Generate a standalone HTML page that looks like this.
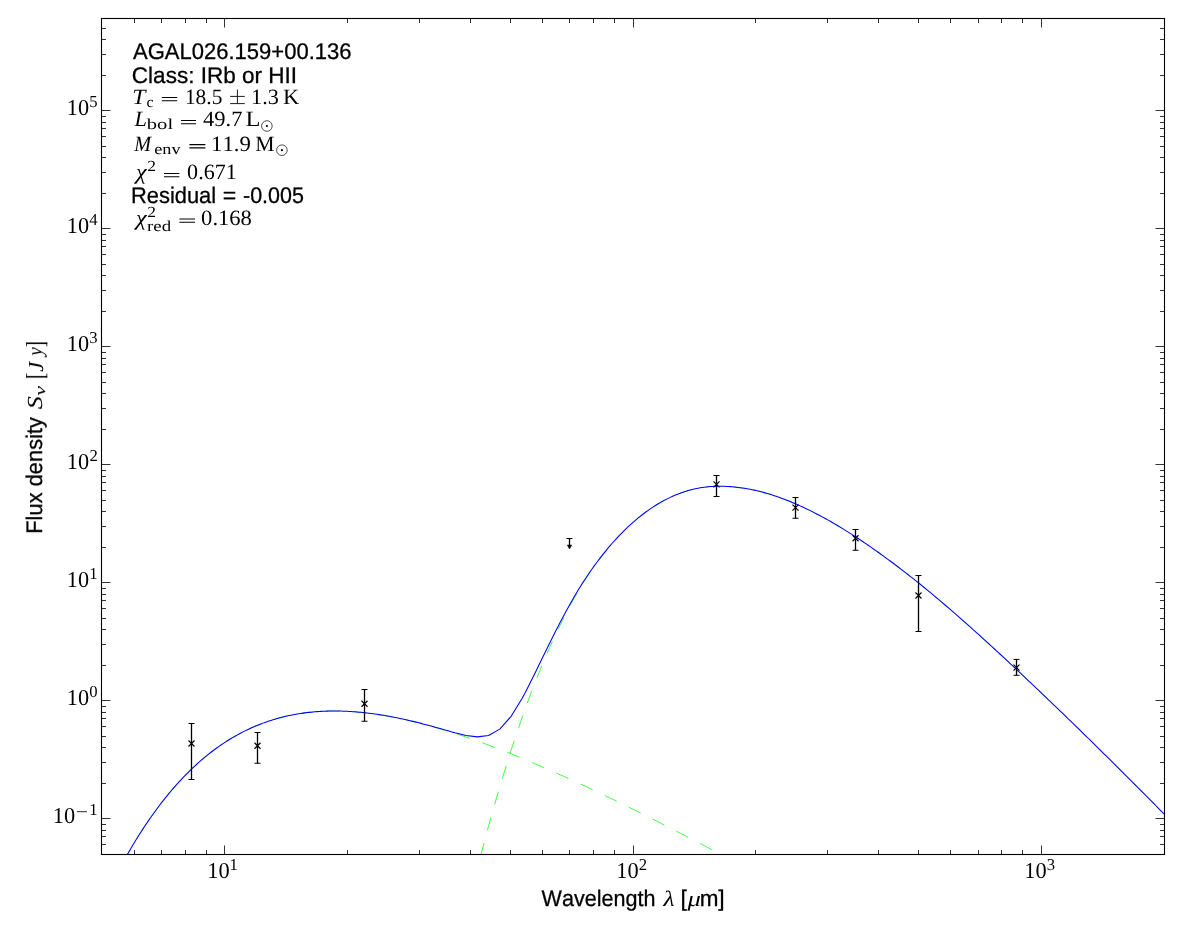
<!DOCTYPE html><html><head><meta charset="utf-8"><style>html,body{margin:0;padding:0;background:#fff}svg{display:block}text{fill:#000;font-kerning:none;text-rendering:geometricPrecision}</style></head><body><svg width="1200" height="933" viewBox="0 0 1200 933">
<rect width="1200" height="933" fill="#fff"/>
<defs><clipPath id="ax"><rect x="101.5" y="18.5" width="1063.0" height="836.0"/></clipPath></defs>
<g clip-path="url(#ax)" fill="none">
<path d="M95.00,919.36 L97.00,914.84 L99.00,910.40 L101.00,906.03 L103.00,901.72 L105.00,897.48 L107.00,893.31 L109.00,889.21 L111.00,885.17 L113.00,881.19 L115.00,877.28 L117.00,873.44 L119.00,869.65 L121.00,865.93 L123.00,862.27 L125.00,858.66 L127.00,855.12 L129.00,851.64 L131.00,848.22 L133.00,844.85 L135.00,841.54 L137.00,838.29 L139.00,835.09 L141.00,831.95 L143.00,828.86 L145.00,825.83 L147.00,822.85 L149.00,819.92 L151.00,817.04 L153.00,814.22 L155.00,811.45 L157.00,808.72 L159.00,806.05 L161.00,803.43 L163.00,800.85 L165.00,798.32 L167.00,795.84 L169.00,793.41 L171.00,791.03 L173.00,788.69 L175.00,786.39 L177.00,784.14 L179.00,781.94 L181.00,779.77 L183.00,777.65 L185.00,775.58 L187.00,773.55 L189.00,771.55 L191.00,769.60 L193.00,767.69 L195.00,765.83 L197.00,764.00 L199.00,762.21 L201.00,760.46 L203.00,758.74 L205.00,757.07 L207.00,755.43 L209.00,753.83 L211.00,752.27 L213.00,750.74 L215.00,749.25 L217.00,747.79 L219.00,746.37 L221.00,744.99 L223.00,743.64 L225.00,742.32 L227.00,741.03 L229.00,739.78 L231.00,738.56 L233.00,737.37 L235.00,736.21 L237.00,735.09 L239.00,734.00 L241.00,732.93 L243.00,731.90 L245.00,730.89 L247.00,729.92 L249.00,728.97 L251.00,728.06 L253.00,727.17 L255.00,726.31 L257.00,725.47 L259.00,724.67 L261.00,723.89 L263.00,723.13 L265.00,722.41 L267.00,721.71 L269.00,721.03 L271.00,720.38 L273.00,719.75 L275.00,719.15 L277.00,718.57 L279.00,718.02 L281.00,717.49 L283.00,716.98 L285.00,716.50 L287.00,716.04 L289.00,715.60 L291.00,715.18 L293.00,714.79 L295.00,714.41 L297.00,714.06 L299.00,713.73 L301.00,713.42 L303.00,713.13 L305.00,712.86 L307.00,712.60 L309.00,712.37 L311.00,712.16 L313.00,711.96 L315.00,711.79 L317.00,711.63 L319.00,711.49 L321.00,711.37 L323.00,711.27 L325.00,711.18 L327.00,711.11 L329.00,711.06 L331.00,711.03 L333.00,711.01 L335.00,711.01 L337.00,711.02 L339.00,711.05 L341.00,711.09 L343.00,711.15 L345.00,711.23 L347.00,711.32 L349.00,711.42 L351.00,711.54 L353.00,711.67 L355.00,711.82 L357.00,711.98 L359.00,712.16 L361.00,712.35 L363.00,712.55 L365.00,712.76 L367.00,712.99 L369.00,713.23 L371.00,713.48 L373.00,713.75 L375.00,714.02 L377.00,714.31 L379.00,714.61 L381.00,714.93 L383.00,715.25 L385.00,715.59 L387.00,715.93 L389.00,716.29 L391.00,716.66 L393.00,717.04 L395.00,717.43 L397.00,717.83 L399.00,718.24 L401.00,718.66 L403.00,719.09 L405.00,719.53 L407.00,719.98 L409.00,720.44 L411.00,720.91 L413.00,721.39 L415.00,721.87 L417.00,722.37 L419.00,722.87 L421.00,723.39 L423.00,723.91 L425.00,724.44 L427.00,724.98 L429.00,725.53 L431.00,726.08 L433.00,726.65 L435.00,727.22 L437.00,727.80 L439.00,728.38 L441.00,728.98 L443.00,729.58 L445.00,730.19 L447.00,730.80 L449.00,731.43 L451.00,732.06 L453.00,732.69 L454.89,733.30 L466.11,737.04 L477.33,740.97 L488.55,745.08 L499.77,749.35 L510.99,753.78 L522.21,758.36 L524.21,759.19 L526.21,760.02 L528.21,760.86 L530.21,761.70 L532.21,762.55 L534.21,763.40 L536.21,764.25 L538.21,765.11 L540.21,765.97 L542.21,766.83 L544.21,767.70 L546.21,768.57 L548.21,769.45 L550.21,770.33 L552.21,771.21 L554.21,772.10 L556.21,772.99 L558.21,773.88 L560.21,774.77 L562.21,775.67 L564.21,776.58 L566.21,777.48 L568.21,778.39 L570.21,779.30 L572.21,780.22 L574.21,781.13 L576.21,782.06 L578.21,782.98 L580.21,783.91 L582.21,784.83 L584.21,785.77 L586.21,786.70 L588.21,787.64 L590.21,788.58 L592.21,789.52 L594.21,790.47 L596.21,791.42 L598.21,792.37 L600.21,793.32 L602.21,794.27 L604.21,795.23 L606.21,796.19 L608.21,797.16 L610.21,798.12 L612.21,799.09 L614.21,800.06 L616.21,801.03 L618.21,802.00 L620.21,802.98 L622.21,803.96 L624.21,804.94 L626.21,805.92 L628.21,806.91 L630.21,807.90 L632.21,808.88 L634.21,809.88 L636.21,810.87 L638.21,811.86 L640.21,812.86 L642.21,813.86 L644.21,814.86 L646.21,815.86 L648.21,816.87 L650.21,817.87 L652.21,818.88 L654.21,819.89 L656.21,820.90 L658.21,821.92 L660.21,822.93 L662.21,823.95 L664.21,824.97 L666.21,825.99 L668.21,827.01 L670.21,828.03 L672.21,829.06 L674.21,830.08 L676.21,831.11 L678.21,832.14 L680.21,833.17 L682.21,834.20 L684.21,835.24 L686.21,836.27 L688.21,837.31 L690.21,838.35 L692.21,839.39 L694.21,840.43 L696.21,841.47 L698.21,842.52 L700.21,843.56 L702.21,844.61 L704.21,845.65 L706.21,846.70 L708.21,847.75 L710.21,848.80 L712.21,849.86 L714.21,850.91 L716.21,851.97 L718.21,853.02 L720.21,854.08 L722.21,855.14 L724.21,856.20 L726.21,857.26 L728.21,858.32 L730.21,859.38 L732.21,860.45 L734.21,861.51 L736.21,862.58 L738.21,863.65 L740.21,864.71 L742.21,865.78 L744.21,866.85 L746.21,867.93 L748.21,869.00 L750.21,870.07 L752.21,871.15 L754.21,872.22 L756.21,873.30 L758.21,874.37 L760.21,875.45 L762.21,876.53 L764.21,877.61 L766.21,878.69 L768.21,879.77 L770.21,880.85 L772.21,881.94 L774.21,883.02 L776.21,884.11 L778.21,885.19 L780.21,886.28 L782.21,887.37 L784.21,888.45 L786.21,889.54 L788.21,890.63 L790.21,891.72 L792.21,892.81 L794.21,893.91 L796.21,895.00 L798.21,896.09 L800.21,897.19 L802.21,898.28 L804.21,899.38 L806.21,900.47 L808.21,901.57 L810.21,902.67 L812.21,903.77 L814.21,904.86 L816.21,905.96 L818.21,907.06 L820.21,908.17 L822.21,909.27 L824.21,910.37 L826.21,911.47 L828.21,912.57 L830.21,913.68 L832.21,914.78 L834.21,915.89 L836.21,916.99 L838.21,918.10 L840.21,919.21 L842.21,920.31 L844.21,921.42 L846.21,922.53 L848.21,923.64 L850.21,924.75 L852.21,925.86 L854.21,926.97 L856.21,928.08 L858.21,929.19 L860.21,930.30 L862.21,931.42 L864.21,932.53 L866.21,933.64 L868.21,934.76 L870.21,935.87 L872.21,936.99 L874.21,938.10 L876.21,939.22 L878.21,940.34 L880.21,941.45 L882.21,942.57 L884.21,943.69 L886.21,944.81 L888.21,945.92 L890.21,947.04 L892.21,948.16 L894.21,949.28 L896.21,950.40 L898.21,951.52 L900.21,952.64 L902.21,953.77 L904.21,954.89 L906.21,956.01 L908.21,957.13 L910.21,958.26 L912.21,959.38 L914.21,960.50 L916.21,961.63 L918.21,962.75 L920.21,963.88 L922.21,965.00 L924.21,966.13 L926.21,967.25 L928.21,968.38 L930.21,969.50 L932.21,970.63 L934.21,971.76 L936.21,972.89 L938.21,974.01 L940.21,975.14 L942.21,976.27 L944.21,977.40 L946.21,978.53 L948.21,979.66 L950.21,980.79 L952.21,981.92 L954.21,983.05 L956.21,984.18 L958.21,985.31 L960.21,986.44 L962.21,987.57 L964.21,988.70 L966.21,989.83 L968.21,990.97 L970.21,992.10 L972.21,993.23 L974.21,994.36 L976.21,995.50 L978.21,996.63 L980.21,997.76 L982.21,998.90 L984.21,1000.03 L986.21,1001.17 L988.21,1002.30 L990.21,1003.44 L992.21,1004.57 L994.21,1005.71 L996.21,1006.84 L998.21,1007.98 L1000.21,1009.11 L1002.21,1010.25 L1004.21,1011.39 L1006.21,1012.52 L1008.21,1013.66 L1010.21,1014.80 L1012.21,1015.93 L1014.21,1017.07 L1016.21,1018.21 L1018.21,1019.35 L1020.21,1020.49 L1022.21,1021.62 L1024.21,1022.76 L1026.21,1023.90 L1028.21,1025.04 L1030.21,1026.18 L1032.21,1027.32 L1034.21,1028.46 L1036.21,1029.60 L1038.21,1030.74 L1040.21,1031.88 L1042.21,1033.02 L1044.21,1034.16 L1046.21,1035.30 L1048.21,1036.44 L1050.21,1037.58 L1052.21,1038.72 L1054.21,1039.86 L1056.21,1041.00 L1058.21,1042.15 L1060.21,1043.29 L1062.21,1044.43 L1064.21,1045.57 L1066.21,1046.71 L1068.21,1047.85 L1070.21,1049.00 L1072.21,1050.14 L1074.21,1051.28 L1076.21,1052.43 L1078.21,1053.57 L1080.21,1054.71 L1082.21,1055.85 L1084.21,1057.00 L1086.21,1058.14 L1088.21,1059.29 L1090.21,1060.43 L1092.21,1061.57 L1094.21,1062.72 L1096.21,1063.86 L1098.21,1065.01 L1100.21,1066.15 L1102.21,1067.29 L1104.21,1068.44 L1106.21,1069.58 L1108.21,1070.73 L1110.21,1071.87 L1112.21,1073.02 L1114.21,1074.16 L1116.21,1075.31 L1118.21,1076.46 L1120.21,1077.60 L1122.21,1078.75 L1124.21,1079.89 L1126.21,1081.04 L1128.21,1082.18 L1130.21,1083.33 L1132.21,1084.48 L1134.21,1085.62 L1136.21,1086.77 L1138.21,1087.92 L1140.21,1089.06 L1142.21,1090.21 L1144.21,1091.36 L1146.21,1092.50 L1148.21,1093.65 L1150.21,1094.80 L1152.21,1095.95 L1154.21,1097.09 L1156.21,1098.24 L1158.21,1099.39 L1160.21,1100.54 L1162.21,1101.68 L1164.21,1102.83 L1166.21,1103.98 L1168.21,1105.13 L1170.21,1106.27" stroke="#00ff00" stroke-width="0.75" stroke-dasharray="13.2 13.45" stroke-dashoffset="16.00"/>
<path d="M419.00,1152.23 L421.00,1140.58 L423.00,1129.09 L425.00,1117.74 L427.00,1106.54 L429.00,1095.49 L431.00,1084.58 L433.00,1073.81 L435.00,1063.19 L437.00,1052.70 L439.00,1042.35 L441.00,1032.13 L443.00,1022.05 L445.00,1012.10 L447.00,1002.29 L449.00,992.60 L451.00,983.05 L453.00,973.62 L454.89,964.83 L466.11,914.89 L477.33,868.67 L488.55,825.96 L499.77,786.59 L510.99,750.37 L522.21,717.16 L524.21,711.54 L526.21,706.01 L528.21,700.58 L530.21,695.23 L532.21,689.96 L534.21,684.79 L536.21,679.70 L538.21,674.69 L540.21,669.77 L542.21,664.93 L544.21,660.17 L546.21,655.50 L548.21,650.91 L550.21,646.40 L552.21,641.96 L554.21,637.61 L556.21,633.33 L558.21,629.14 L560.21,625.01 L562.21,620.97 L564.21,617.00 L566.21,613.10 L568.21,609.28 L570.21,605.53 L572.21,601.86 L574.21,598.25 L576.21,594.72 L578.21,591.28 L580.21,587.92 L582.21,584.64 L584.21,581.45 L586.21,578.33 L588.21,575.28 L590.21,572.31 L592.21,569.41 L594.21,566.57 L596.21,563.79 L598.21,561.08 L600.21,558.42 L602.21,555.81 L604.21,553.26 L606.21,550.76 L608.21,548.31 L610.21,545.93 L612.21,543.60 L614.21,541.33 L616.21,539.12 L618.21,536.96 L620.21,534.85 L622.21,532.79 L624.21,530.79 L626.21,528.83 L628.21,526.92 L630.21,525.05 L632.21,523.23 L634.21,521.46 L636.21,519.74 L638.21,518.07 L640.21,516.45 L642.21,514.88 L644.21,513.35 L646.21,511.87 L648.21,510.44 L650.21,509.05 L652.21,507.71 L654.21,506.41 L656.21,505.14 L658.21,503.92 L660.21,502.73 L662.21,501.59 L664.21,500.49 L666.21,499.44 L668.21,498.43 L670.21,497.47 L672.21,496.54 L674.21,495.66 L676.21,494.81 L678.21,494.01 L680.21,493.24 L682.21,492.52 L684.21,491.84 L686.21,491.20 L688.21,490.61 L690.21,490.06 L692.21,489.56 L694.21,489.09 L696.21,488.66 L698.21,488.26 L700.21,487.90 L702.21,487.58 L704.21,487.29 L706.21,487.04 L708.21,486.83 L710.21,486.65 L712.21,486.51 L714.21,486.40 L716.21,486.33 L718.21,486.29 L720.21,486.29 L722.21,486.31 L724.21,486.36 L726.21,486.44 L728.21,486.55 L730.21,486.68 L732.21,486.83 L734.21,487.01 L736.21,487.21 L738.21,487.44 L740.21,487.70 L742.21,487.97 L744.21,488.28 L746.21,488.61 L748.21,488.96 L750.21,489.33 L752.21,489.73 L754.21,490.16 L756.21,490.61 L758.21,491.08 L760.21,491.58 L762.21,492.10 L764.21,492.65 L766.21,493.21 L768.21,493.79 L770.21,494.40 L772.21,495.03 L774.21,495.68 L776.21,496.35 L778.21,497.04 L780.21,497.75 L782.21,498.48 L784.21,499.22 L786.21,499.99 L788.21,500.78 L790.21,501.59 L792.21,502.42 L794.21,503.26 L796.21,504.12 L798.21,505.00 L800.21,505.90 L802.21,506.82 L804.21,507.75 L806.21,508.70 L808.21,509.66 L810.21,510.64 L812.21,511.64 L814.21,512.66 L816.21,513.68 L818.21,514.73 L820.21,515.79 L822.21,516.86 L824.21,517.95 L826.21,519.06 L828.21,520.18 L830.21,521.31 L832.21,522.46 L834.21,523.62 L836.21,524.80 L838.21,525.99 L840.21,527.19 L842.21,528.41 L844.21,529.64 L846.21,530.88 L848.21,532.13 L850.21,533.40 L852.21,534.68 L854.21,535.97 L856.21,537.27 L858.21,538.58 L860.21,539.91 L862.21,541.25 L864.21,542.59 L866.21,543.95 L868.21,545.32 L870.21,546.70 L872.21,548.10 L874.21,549.50 L876.21,550.91 L878.21,552.33 L880.21,553.76 L882.21,555.20 L884.21,556.66 L886.21,558.11 L888.21,559.58 L890.21,561.06 L892.21,562.54 L894.21,564.04 L896.21,565.54 L898.21,567.06 L900.21,568.58 L902.21,570.11 L904.21,571.65 L906.21,573.20 L908.21,574.75 L910.21,576.32 L912.21,577.90 L914.21,579.48 L916.21,581.07 L918.21,582.68 L920.21,584.29 L922.21,585.91 L924.21,587.55 L926.21,589.19 L928.21,590.84 L930.21,592.49 L932.21,594.16 L934.21,595.83 L936.21,597.51 L938.21,599.20 L940.21,600.90 L942.21,602.60 L944.21,604.30 L946.21,606.02 L948.21,607.74 L950.21,609.46 L952.21,611.19 L954.21,612.92 L956.21,614.67 L958.21,616.41 L960.21,618.17 L962.21,619.93 L964.21,621.69 L966.21,623.47 L968.21,625.24 L970.21,627.03 L972.21,628.81 L974.21,630.61 L976.21,632.41 L978.21,634.21 L980.21,636.02 L982.21,637.83 L984.21,639.64 L986.21,641.46 L988.21,643.29 L990.21,645.12 L992.21,646.95 L994.21,648.79 L996.21,650.62 L998.21,652.47 L1000.21,654.31 L1002.21,656.17 L1004.21,658.02 L1006.21,659.88 L1008.21,661.75 L1010.21,663.62 L1012.21,665.49 L1014.21,667.37 L1016.21,669.25 L1018.21,671.13 L1020.21,673.01 L1022.21,674.90 L1024.21,676.79 L1026.21,678.68 L1028.21,680.58 L1030.21,682.47 L1032.21,684.37 L1034.21,686.26 L1036.21,688.16 L1038.21,690.06 L1040.21,691.96 L1042.21,693.86 L1044.21,695.76 L1046.21,697.67 L1048.21,699.58 L1050.21,701.50 L1052.21,703.41 L1054.21,705.33 L1056.21,707.25 L1058.21,709.18 L1060.21,711.11 L1062.21,713.04 L1064.21,714.97 L1066.21,716.90 L1068.21,718.84 L1070.21,720.78 L1072.21,722.72 L1074.21,724.67 L1076.21,726.62 L1078.21,728.57 L1080.21,730.52 L1082.21,732.47 L1084.21,734.43 L1086.21,736.39 L1088.21,738.35 L1090.21,740.31 L1092.21,742.28 L1094.21,744.25 L1096.21,746.22 L1098.21,748.19 L1100.21,750.16 L1102.21,752.14 L1104.21,754.12 L1106.21,756.10 L1108.21,758.08 L1110.21,760.06 L1112.21,762.05 L1114.21,764.04 L1116.21,766.03 L1118.21,768.02 L1120.21,770.01 L1122.21,772.01 L1124.21,774.00 L1126.21,776.00 L1128.21,778.00 L1130.21,780.00 L1132.21,782.01 L1134.21,784.01 L1136.21,786.02 L1138.21,788.03 L1140.21,790.04 L1142.21,792.05 L1144.21,794.06 L1146.21,796.08 L1148.21,798.09 L1150.21,800.11 L1152.21,802.13 L1154.21,804.15 L1156.21,806.17 L1158.21,808.19 L1160.21,810.22 L1162.21,812.24 L1164.21,814.27 L1166.21,816.30 L1168.21,818.33 L1170.21,820.36" stroke="#00ff00" stroke-width="0.75" stroke-dasharray="13.2 13.45" stroke-dashoffset="17.00"/>
<g stroke="#000" fill="none" stroke-width="1.15">
<path d="M188.5,740.5 L194.5,746.5 M188.5,746.5 L194.5,740.5"/>
<path d="M254.5,742.75 L260.5,748.75 M254.5,748.75 L260.5,742.75"/>
<path d="M361.5,700.75 L367.5,706.75 M361.5,706.75 L367.5,700.75"/>
<path d="M713.5,481.4 L719.5,487.4 M713.5,487.4 L719.5,481.4"/>
<path d="M792.5,504.7 L798.5,510.7 M792.5,510.7 L798.5,504.7"/>
<path d="M852.5,535.25 L858.5,541.25 M852.5,541.25 L858.5,535.25"/>
<path d="M915.5,592.5 L921.5,598.5 M915.5,598.5 L921.5,592.5"/>
<path d="M1013.5,664.6 L1019.5,670.6 M1013.5,670.6 L1019.5,664.6"/>
</g>
<path d="M95.00,919.36 L97.00,914.84 L99.00,910.40 L101.00,906.03 L103.00,901.72 L105.00,897.48 L107.00,893.31 L109.00,889.21 L111.00,885.17 L113.00,881.19 L115.00,877.28 L117.00,873.44 L119.00,869.65 L121.00,865.93 L123.00,862.27 L125.00,858.66 L127.00,855.12 L129.00,851.64 L131.00,848.22 L133.00,844.85 L135.00,841.54 L137.00,838.29 L139.00,835.09 L141.00,831.95 L143.00,828.86 L145.00,825.83 L147.00,822.85 L149.00,819.92 L151.00,817.04 L153.00,814.22 L155.00,811.45 L157.00,808.72 L159.00,806.05 L161.00,803.43 L163.00,800.85 L165.00,798.32 L167.00,795.84 L169.00,793.41 L171.00,791.03 L173.00,788.69 L175.00,786.39 L177.00,784.14 L179.00,781.94 L181.00,779.77 L183.00,777.65 L185.00,775.58 L187.00,773.55 L189.00,771.55 L191.00,769.60 L193.00,767.69 L195.00,765.83 L197.00,764.00 L199.00,762.21 L201.00,760.46 L203.00,758.74 L205.00,757.07 L207.00,755.43 L209.00,753.83 L211.00,752.27 L213.00,750.74 L215.00,749.25 L217.00,747.79 L219.00,746.37 L221.00,744.99 L223.00,743.64 L225.00,742.32 L227.00,741.03 L229.00,739.78 L231.00,738.56 L233.00,737.37 L235.00,736.21 L237.00,735.09 L239.00,734.00 L241.00,732.93 L243.00,731.90 L245.00,730.89 L247.00,729.92 L249.00,728.97 L251.00,728.06 L253.00,727.17 L255.00,726.31 L257.00,725.47 L259.00,724.67 L261.00,723.89 L263.00,723.13 L265.00,722.41 L267.00,721.71 L269.00,721.03 L271.00,720.38 L273.00,719.75 L275.00,719.15 L277.00,718.57 L279.00,718.02 L281.00,717.49 L283.00,716.98 L285.00,716.50 L287.00,716.04 L289.00,715.60 L291.00,715.18 L293.00,714.79 L295.00,714.41 L297.00,714.06 L299.00,713.73 L301.00,713.42 L303.00,713.13 L305.00,712.86 L307.00,712.60 L309.00,712.37 L311.00,712.16 L313.00,711.96 L315.00,711.79 L317.00,711.63 L319.00,711.49 L321.00,711.37 L323.00,711.27 L325.00,711.18 L327.00,711.11 L329.00,711.06 L331.00,711.03 L333.00,711.01 L335.00,711.01 L337.00,711.02 L339.00,711.05 L341.00,711.09 L343.00,711.15 L345.00,711.23 L347.00,711.32 L349.00,711.42 L351.00,711.54 L353.00,711.67 L355.00,711.82 L357.00,711.98 L359.00,712.16 L361.00,712.35 L363.00,712.55 L365.00,712.76 L367.00,712.99 L369.00,713.23 L371.00,713.48 L373.00,713.75 L375.00,714.02 L377.00,714.31 L379.00,714.61 L381.00,714.93 L383.00,715.25 L385.00,715.59 L387.00,715.93 L389.00,716.29 L391.00,716.66 L393.00,717.04 L395.00,717.43 L397.00,717.83 L399.00,718.24 L401.00,718.66 L403.00,719.09 L405.00,719.53 L407.00,719.98 L409.00,720.44 L411.00,720.90 L413.00,721.38 L415.00,721.87 L417.00,722.36 L419.00,722.86 L421.00,723.37 L423.00,723.89 L425.00,724.42 L427.00,724.95 L429.00,725.49 L431.00,726.03 L433.00,726.59 L435.00,727.14 L437.00,727.71 L439.00,728.27 L441.00,728.84 L443.00,729.41 L445.00,729.98 L447.00,730.55 L449.00,731.11 L451.00,731.68 L453.00,732.23 L454.89,732.75 L466.11,735.47 L477.33,736.89 L488.55,735.46 L499.77,729.14 L510.99,716.53 L522.21,698.20 L524.21,694.49 L526.21,690.69 L528.21,686.80 L530.21,682.84 L532.21,678.83 L534.21,674.78 L536.21,670.69 L538.21,666.59 L540.21,662.47 L542.21,658.35 L544.21,654.24 L546.21,650.15 L548.21,646.07 L550.21,642.02 L552.21,638.01 L554.21,634.02 L556.21,630.08 L558.21,626.18 L560.21,622.33 L562.21,618.52 L564.21,614.77 L566.21,611.07 L568.21,607.43 L570.21,603.83 L572.21,600.30 L574.21,596.83 L576.21,593.41 L578.21,590.08 L580.21,586.81 L582.21,583.62 L584.21,580.51 L586.21,577.46 L588.21,574.48 L590.21,571.57 L592.21,568.72 L594.21,565.93 L596.21,563.20 L598.21,560.53 L600.21,557.91 L602.21,555.34 L604.21,552.82 L606.21,550.34 L608.21,547.92 L610.21,545.56 L612.21,543.26 L614.21,541.01 L616.21,538.82 L618.21,536.67 L620.21,534.58 L622.21,532.54 L624.21,530.55 L626.21,528.61 L628.21,526.71 L630.21,524.85 L632.21,523.04 L634.21,521.28 L636.21,519.57 L638.21,517.91 L640.21,516.30 L642.21,514.73 L644.21,513.21 L646.21,511.74 L648.21,510.31 L650.21,508.93 L652.21,507.60 L654.21,506.30 L656.21,505.04 L658.21,503.82 L660.21,502.64 L662.21,501.50 L664.21,500.40 L666.21,499.35 L668.21,498.35 L670.21,497.39 L672.21,496.47 L674.21,495.58 L676.21,494.74 L678.21,493.94 L680.21,493.17 L682.21,492.45 L684.21,491.77 L686.21,491.14 L688.21,490.55 L690.21,490.00 L692.21,489.50 L694.21,489.03 L696.21,488.60 L698.21,488.21 L700.21,487.85 L702.21,487.53 L704.21,487.25 L706.21,487.00 L708.21,486.78 L710.21,486.60 L712.21,486.46 L714.21,486.36 L716.21,486.29 L718.21,486.25 L720.21,486.25 L722.21,486.27 L724.21,486.33 L726.21,486.41 L728.21,486.51 L730.21,486.64 L732.21,486.80 L734.21,486.98 L736.21,487.18 L738.21,487.41 L740.21,487.66 L742.21,487.94 L744.21,488.25 L746.21,488.57 L748.21,488.93 L750.21,489.30 L752.21,489.70 L754.21,490.13 L756.21,490.58 L758.21,491.05 L760.21,491.55 L762.21,492.07 L764.21,492.62 L766.21,493.18 L768.21,493.77 L770.21,494.37 L772.21,495.00 L774.21,495.65 L776.21,496.32 L778.21,497.01 L780.21,497.72 L782.21,498.45 L784.21,499.20 L786.21,499.97 L788.21,500.76 L790.21,501.57 L792.21,502.39 L794.21,503.24 L796.21,504.10 L798.21,504.98 L800.21,505.88 L802.21,506.79 L804.21,507.72 L806.21,508.67 L808.21,509.64 L810.21,510.62 L812.21,511.62 L814.21,512.63 L816.21,513.66 L818.21,514.70 L820.21,515.76 L822.21,516.84 L824.21,517.93 L826.21,519.03 L828.21,520.15 L830.21,521.29 L832.21,522.44 L834.21,523.60 L836.21,524.77 L838.21,525.96 L840.21,527.17 L842.21,528.38 L844.21,529.61 L846.21,530.85 L848.21,532.11 L850.21,533.37 L852.21,534.65 L854.21,535.94 L856.21,537.24 L858.21,538.56 L860.21,539.88 L862.21,541.22 L864.21,542.57 L866.21,543.93 L868.21,545.30 L870.21,546.68 L872.21,548.07 L874.21,549.47 L876.21,550.88 L878.21,552.30 L880.21,553.74 L882.21,555.18 L884.21,556.63 L886.21,558.09 L888.21,559.55 L890.21,561.03 L892.21,562.52 L894.21,564.01 L896.21,565.51 L898.21,567.03 L900.21,568.55 L902.21,570.08 L904.21,571.62 L906.21,573.17 L908.21,574.72 L910.21,576.29 L912.21,577.87 L914.21,579.45 L916.21,581.04 L918.21,582.65 L920.21,584.26 L922.21,585.88 L924.21,587.51 L926.21,589.15 L928.21,590.80 L930.21,592.46 L932.21,594.13 L934.21,595.80 L936.21,597.48 L938.21,599.17 L940.21,600.86 L942.21,602.56 L944.21,604.27 L946.21,605.98 L948.21,607.70 L950.21,609.42 L952.21,611.15 L954.21,612.89 L956.21,614.63 L958.21,616.38 L960.21,618.13 L962.21,619.89 L964.21,621.65 L966.21,623.43 L968.21,625.20 L970.21,626.98 L972.21,628.77 L974.21,630.56 L976.21,632.36 L978.21,634.16 L980.21,635.97 L982.21,637.78 L984.21,639.60 L986.21,641.42 L988.21,643.24 L990.21,645.07 L992.21,646.90 L994.21,648.74 L996.21,650.58 L998.21,652.42 L1000.21,654.26 L1002.21,656.11 L1004.21,657.97 L1006.21,659.83 L1008.21,661.69 L1010.21,663.56 L1012.21,665.43 L1014.21,667.31 L1016.21,669.19 L1018.21,671.07 L1020.21,672.96 L1022.21,674.84 L1024.21,676.73 L1026.21,678.62 L1028.21,680.51 L1030.21,682.41 L1032.21,684.30 L1034.21,686.20 L1036.21,688.09 L1038.21,689.99 L1040.21,691.89 L1042.21,693.79 L1044.21,695.69 L1046.21,697.60 L1048.21,699.51 L1050.21,701.42 L1052.21,703.34 L1054.21,705.26 L1056.21,707.18 L1058.21,709.10 L1060.21,711.03 L1062.21,712.96 L1064.21,714.89 L1066.21,716.82 L1068.21,718.76 L1070.21,720.70 L1072.21,722.64 L1074.21,724.58 L1076.21,726.53 L1078.21,728.48 L1080.21,730.43 L1082.21,732.38 L1084.21,734.34 L1086.21,736.29 L1088.21,738.25 L1090.21,740.22 L1092.21,742.18 L1094.21,744.15 L1096.21,746.11 L1098.21,748.08 L1100.21,750.06 L1102.21,752.03 L1104.21,754.01 L1106.21,755.99 L1108.21,757.97 L1110.21,759.95 L1112.21,761.93 L1114.21,763.92 L1116.21,765.90 L1118.21,767.89 L1120.21,769.88 L1122.21,771.88 L1124.21,773.87 L1126.21,775.87 L1128.21,777.87 L1130.21,779.87 L1132.21,781.87 L1134.21,783.87 L1136.21,785.87 L1138.21,787.88 L1140.21,789.89 L1142.21,791.90 L1144.21,793.91 L1146.21,795.92 L1148.21,797.93 L1150.21,799.95 L1152.21,801.96 L1154.21,803.98 L1156.21,806.00 L1158.21,808.02 L1160.21,810.04 L1162.21,812.06 L1164.21,814.09 L1166.21,816.11 L1168.21,818.14 L1170.21,820.17" stroke="#0000ff" stroke-width="1.05" stroke-linejoin="round"/>
</g>
<g stroke="#000" fill="none">
<path d="M191.5,723.5 V779.5" stroke-width="1.3"/>
<path d="M188.5,723.5 H194.5 M188.5,779.5 H194.5" stroke-width="1.0"/>
<path d="M257.5,732.5 V763.25" stroke-width="1.3"/>
<path d="M254.5,732.5 H260.5 M254.5,763.25 H260.5" stroke-width="1.0"/>
<path d="M364.5,689.5 V721.25" stroke-width="1.3"/>
<path d="M361.5,689.5 H367.5 M361.5,721.25 H367.5" stroke-width="1.0"/>
<path d="M716.5,475.5 V496.5" stroke-width="1.3"/>
<path d="M713.5,475.5 H719.5 M713.5,496.5 H719.5" stroke-width="1.0"/>
<path d="M795.5,497.5 V518.25" stroke-width="1.3"/>
<path d="M792.5,497.5 H798.5 M792.5,518.25 H798.5" stroke-width="1.0"/>
<path d="M855.5,529.5 V550.25" stroke-width="1.3"/>
<path d="M852.5,529.5 H858.5 M852.5,550.25 H858.5" stroke-width="1.0"/>
<path d="M918.5,575.5 V631.5" stroke-width="1.3"/>
<path d="M915.5,575.5 H921.5 M915.5,631.5 H921.5" stroke-width="1.0"/>
<path d="M1016.5,659.4 V675.3" stroke-width="1.3"/>
<path d="M1013.5,659.4 H1019.5 M1013.5,675.3 H1019.5" stroke-width="1.0"/>
</g>
<g stroke="#000"><path d="M569.5,538.5 V546" stroke-width="1.3" fill="none"/><path d="M566.5,538.5 H572.5" stroke-width="1.0"/><path d="M567.3,545 H571.7 L569.5,549 Z" fill="#000" stroke-width="0.5"/></g>
<path d="M101.5,854.5 v-4.5 M101.5,18.5 v4.5 M134.5,854.5 v-4.5 M134.5,18.5 v4.5 M161.5,854.5 v-4.5 M161.5,18.5 v4.5 M185.5,854.5 v-4.5 M185.5,18.5 v4.5 M206.5,854.5 v-4.5 M206.5,18.5 v4.5 M224.5,854.5 v-9 M224.5,18.5 v9 M347.5,854.5 v-4.5 M347.5,18.5 v4.5 M419.5,854.5 v-4.5 M419.5,18.5 v4.5 M470.5,854.5 v-4.5 M470.5,18.5 v4.5 M510.5,854.5 v-4.5 M510.5,18.5 v4.5 M542.5,854.5 v-4.5 M542.5,18.5 v4.5 M569.5,854.5 v-4.5 M569.5,18.5 v4.5 M593.5,854.5 v-4.5 M593.5,18.5 v4.5 M614.5,854.5 v-4.5 M614.5,18.5 v4.5 M633.5,854.5 v-9 M633.5,18.5 v9 M755.5,854.5 v-4.5 M755.5,18.5 v4.5 M827.5,854.5 v-4.5 M827.5,18.5 v4.5 M878.5,854.5 v-4.5 M878.5,18.5 v4.5 M918.5,854.5 v-4.5 M918.5,18.5 v4.5 M950.5,854.5 v-4.5 M950.5,18.5 v4.5 M978.5,854.5 v-4.5 M978.5,18.5 v4.5 M1001.5,854.5 v-4.5 M1001.5,18.5 v4.5 M1022.5,854.5 v-4.5 M1022.5,18.5 v4.5 M1041.5,854.5 v-9 M1041.5,18.5 v9 M1164.5,854.5 v-4.5 M1164.5,18.5 v4.5 M101.5,854.5 h4.5 M1164.5,854.5 h-4.5 M101.5,844.5 h4.5 M1164.5,844.5 h-4.5 M101.5,836.5 h4.5 M1164.5,836.5 h-4.5 M101.5,830.5 h4.5 M1164.5,830.5 h-4.5 M101.5,824.5 h4.5 M1164.5,824.5 h-4.5 M101.5,818.5 h9 M1164.5,818.5 h-9 M101.5,783.5 h4.5 M1164.5,783.5 h-4.5 M101.5,762.5 h4.5 M1164.5,762.5 h-4.5 M101.5,747.5 h4.5 M1164.5,747.5 h-4.5 M101.5,736.5 h4.5 M1164.5,736.5 h-4.5 M101.5,726.5 h4.5 M1164.5,726.5 h-4.5 M101.5,718.5 h4.5 M1164.5,718.5 h-4.5 M101.5,712.5 h4.5 M1164.5,712.5 h-4.5 M101.5,706.5 h4.5 M1164.5,706.5 h-4.5 M101.5,700.5 h9 M1164.5,700.5 h-9 M101.5,665.5 h4.5 M1164.5,665.5 h-4.5 M101.5,644.5 h4.5 M1164.5,644.5 h-4.5 M101.5,629.5 h4.5 M1164.5,629.5 h-4.5 M101.5,618.5 h4.5 M1164.5,618.5 h-4.5 M101.5,608.5 h4.5 M1164.5,608.5 h-4.5 M101.5,600.5 h4.5 M1164.5,600.5 h-4.5 M101.5,594.5 h4.5 M1164.5,594.5 h-4.5 M101.5,588.5 h4.5 M1164.5,588.5 h-4.5 M101.5,582.5 h9 M1164.5,582.5 h-9 M101.5,547.5 h4.5 M1164.5,547.5 h-4.5 M101.5,526.5 h4.5 M1164.5,526.5 h-4.5 M101.5,511.5 h4.5 M1164.5,511.5 h-4.5 M101.5,500.5 h4.5 M1164.5,500.5 h-4.5 M101.5,490.5 h4.5 M1164.5,490.5 h-4.5 M101.5,482.5 h4.5 M1164.5,482.5 h-4.5 M101.5,476.5 h4.5 M1164.5,476.5 h-4.5 M101.5,470.5 h4.5 M1164.5,470.5 h-4.5 M101.5,464.5 h9 M1164.5,464.5 h-9 M101.5,429.5 h4.5 M1164.5,429.5 h-4.5 M101.5,408.5 h4.5 M1164.5,408.5 h-4.5 M101.5,393.5 h4.5 M1164.5,393.5 h-4.5 M101.5,382.5 h4.5 M1164.5,382.5 h-4.5 M101.5,372.5 h4.5 M1164.5,372.5 h-4.5 M101.5,364.5 h4.5 M1164.5,364.5 h-4.5 M101.5,358.5 h4.5 M1164.5,358.5 h-4.5 M101.5,352.5 h4.5 M1164.5,352.5 h-4.5 M101.5,346.5 h9 M1164.5,346.5 h-9 M101.5,311.5 h4.5 M1164.5,311.5 h-4.5 M101.5,290.5 h4.5 M1164.5,290.5 h-4.5 M101.5,275.5 h4.5 M1164.5,275.5 h-4.5 M101.5,264.5 h4.5 M1164.5,264.5 h-4.5 M101.5,254.5 h4.5 M1164.5,254.5 h-4.5 M101.5,246.5 h4.5 M1164.5,246.5 h-4.5 M101.5,240.5 h4.5 M1164.5,240.5 h-4.5 M101.5,234.5 h4.5 M1164.5,234.5 h-4.5 M101.5,228.5 h9 M1164.5,228.5 h-9 M101.5,193.5 h4.5 M1164.5,193.5 h-4.5 M101.5,172.5 h4.5 M1164.5,172.5 h-4.5 M101.5,157.5 h4.5 M1164.5,157.5 h-4.5 M101.5,146.5 h4.5 M1164.5,146.5 h-4.5 M101.5,136.5 h4.5 M1164.5,136.5 h-4.5 M101.5,128.5 h4.5 M1164.5,128.5 h-4.5 M101.5,122.5 h4.5 M1164.5,122.5 h-4.5 M101.5,116.5 h4.5 M1164.5,116.5 h-4.5 M101.5,110.5 h9 M1164.5,110.5 h-9 M101.5,75.5 h4.5 M1164.5,75.5 h-4.5 M101.5,54.5 h4.5 M1164.5,54.5 h-4.5 M101.5,39.5 h4.5 M1164.5,39.5 h-4.5 M101.5,28.5 h4.5 M1164.5,28.5 h-4.5 M101.5,18.5 h4.5 M1164.5,18.5 h-4.5" stroke="#000" stroke-width="0.8" fill="none"/>
<rect x="101.5" y="18.5" width="1063.0" height="836.0" fill="none" stroke="#000" stroke-width="1.1"/>
<g opacity="0.999">
<text transform="translate(207.20,878.00) scale(0.9868,1.0000)" font-family="Liberation Serif" font-size="22.7">10</text>
<text transform="translate(229.57,869.70) scale(1.0000,1.0000)" font-family="Liberation Serif" font-size="16.7">1</text>
<text transform="translate(616.20,878.00) scale(0.9868,1.0000)" font-family="Liberation Serif" font-size="22.7">10</text>
<text transform="translate(638.86,869.70) scale(1.0000,1.0000)" font-family="Liberation Serif" font-size="16.7">2</text>
<text transform="translate(1024.20,878.00) scale(0.9868,1.0000)" font-family="Liberation Serif" font-size="22.7">10</text>
<text transform="translate(1046.73,869.70) scale(1.0000,1.0000)" font-family="Liberation Serif" font-size="16.7">3</text>
<text transform="translate(52.80,823.00) scale(0.9868,1.0000)" font-family="Liberation Serif" font-size="22.7">10</text>
<path d="M76.9,811.70 H87" stroke="#000" stroke-width="0.85"/>
<text transform="translate(89.17,815.00) scale(1.0000,1.0000)" font-family="Liberation Serif" font-size="16.7">1</text>
<text transform="translate(66.86,705.00) scale(0.9817,1.0000)" font-family="Liberation Serif" font-size="22.7">10</text>
<text transform="translate(89.37,697.00) scale(1.0000,1.0000)" font-family="Liberation Serif" font-size="16.7">0</text>
<text transform="translate(66.86,587.00) scale(0.9817,1.0000)" font-family="Liberation Serif" font-size="22.7">10</text>
<text transform="translate(89.17,579.00) scale(1.0000,1.0000)" font-family="Liberation Serif" font-size="16.7">1</text>
<text transform="translate(66.86,469.00) scale(0.9817,1.0000)" font-family="Liberation Serif" font-size="22.7">10</text>
<text transform="translate(89.46,461.00) scale(1.0000,1.0000)" font-family="Liberation Serif" font-size="16.7">2</text>
<text transform="translate(66.86,351.00) scale(0.9817,1.0000)" font-family="Liberation Serif" font-size="22.7">10</text>
<text transform="translate(89.33,343.00) scale(1.0000,1.0000)" font-family="Liberation Serif" font-size="16.7">3</text>
<text transform="translate(66.86,233.00) scale(0.9817,1.0000)" font-family="Liberation Serif" font-size="22.7">10</text>
<text transform="translate(89.33,225.00) scale(1.0000,1.0000)" font-family="Liberation Serif" font-size="16.7">4</text>
<text transform="translate(66.86,115.00) scale(0.9817,1.0000)" font-family="Liberation Serif" font-size="22.7">10</text>
<text transform="translate(89.21,107.00) scale(1.0000,1.0000)" font-family="Liberation Serif" font-size="16.7">5</text>
<text transform="translate(541.59,905.60) scale(0.9719,1.0200)" font-family="Liberation Sans" font-size="22.2" stroke="#000" stroke-width="0.3">Wavelength</text>
<text transform="translate(663.54,905.60) scale(1.1599,1.0000)" font-family="Liberation Serif" font-size="22" font-style="italic">λ</text>
<text transform="translate(680.49,905.60) scale(1.0360,1.0200)" font-family="Liberation Sans" font-size="22.2" stroke="#000" stroke-width="0.3">[</text>
<text transform="translate(687.50,905.60) scale(1.2089,1.0000)" font-family="Liberation Serif" font-size="22" font-style="italic">μ</text>
<text transform="translate(699.79,905.60) scale(1.0127,1.0200)" font-family="Liberation Sans" font-size="22.2" stroke="#000" stroke-width="0.3">m</text>
<text transform="translate(718.18,905.60) scale(1.0360,1.0200)" font-family="Liberation Sans" font-size="22.2" stroke="#000" stroke-width="0.3">]</text>
<g transform="translate(42,532.1) rotate(-90)">
<text transform="translate(-1.75,0.00) scale(0.9867,1.0200)" font-family="Liberation Sans" font-size="22.2" stroke="#000" stroke-width="0.3">Flux density</text>
<text transform="translate(122.74,0.00) scale(1.2240,1.0000)" font-family="Liberation Serif" font-size="21.5" font-style="italic">S</text>
<text transform="translate(136.38,3.20) scale(1.4419,1.0000)" font-family="Liberation Serif" font-size="15" font-style="italic">ν</text>
<path d="M155.3,-15.85 V5.2" stroke="#000" stroke-width="1.6" fill="none"/><path d="M154.5,-15.45 H158.5 M154.5,4.8 H158.5" stroke="#000" stroke-width="0.8" fill="none"/>
<text transform="translate(160.16,0.50) scale(1.0589,1.0000)" font-family="Liberation Serif" font-size="21.5" font-style="italic">J</text>
<text transform="translate(176.25,0.30) scale(0.9039,1.0000)" font-family="Liberation Serif" font-size="21.5" font-style="italic">y</text>
<path d="M188.8,-15.85 V5.2" stroke="#000" stroke-width="1.6" fill="none"/><path d="M189.6,-15.45 H185.8 M189.6,4.8 H185.8" stroke="#000" stroke-width="0.8" fill="none"/>
</g>
<text transform="translate(133.00,58.60) scale(0.9926,1.0200)" font-family="Liberation Sans" font-size="22.2" stroke="#000" stroke-width="0.3">AGAL026.159+00.136</text>
<text transform="translate(131.87,82.50) scale(1.0142,1.0200)" font-family="Liberation Sans" font-size="22.2" stroke="#000" stroke-width="0.3">Class: IRb or HII</text>
<text transform="translate(131.05,203.00) scale(0.9853,1.0200)" font-family="Liberation Sans" font-size="22.2" stroke="#000" stroke-width="0.3">Residual</text>
<text transform="translate(222.65,203.00) scale(1.0402,1.0200)" font-family="Liberation Sans" font-size="22.2" stroke="#000" stroke-width="0.3">=</text>
<text transform="translate(243.03,203.00) scale(0.9664,1.0200)" font-family="Liberation Sans" font-size="22.2" stroke="#000" stroke-width="0.3">-0.005</text>
<text transform="translate(132.21,103.50) scale(1.1407,1.0500)" font-family="Liberation Serif" font-size="20.8" font-style="italic">T</text>
<text transform="translate(146.61,106.50) scale(1.0959,1.0500)" font-family="Liberation Serif" font-size="14.6">c</text>
<path d="M161.80,97.50 H177.25 M161.80,100.75 H177.25" stroke="#000" stroke-width="1.05" fill="none"/>
<text transform="translate(184.88,103.50) scale(1.0296,1.0500)" font-family="Liberation Serif" font-size="20.8">18.5</text>
<path d="M230.1,96.4 H244.75 M230.1,103.6 H244.75 M237.4,89.6 V103.6" stroke="#000" stroke-width="0.9" fill="none"/>
<text transform="translate(251.10,103.50) scale(1.0726,1.0500)" font-family="Liberation Serif" font-size="20.8">1.3</text>
<text transform="translate(283.07,103.50) scale(1.0853,1.0500)" font-family="Liberation Serif" font-size="20.8">K</text>
<text transform="translate(134.42,126.45) scale(1.0679,1.0500)" font-family="Liberation Serif" font-size="20.8" font-style="italic">L</text>
<text transform="translate(146.80,129.05) scale(1.4106,1.0500)" font-family="Liberation Serif" font-size="14.6">bol</text>
<path d="M181.00,120.45 H196.00 M181.00,123.70 H196.00" stroke="#000" stroke-width="1.05" fill="none"/>
<text transform="translate(203.05,126.45) scale(1.0817,1.0500)" font-family="Liberation Serif" font-size="20.8">49.7</text>
<text transform="translate(245.51,126.45) scale(1.1788,1.0500)" font-family="Liberation Serif" font-size="20.8">L</text>
<circle cx="266.90" cy="126.00" r="5.30" fill="none" stroke="#000" stroke-width="0.7"/><circle cx="266.90" cy="126.00" r="1.1" fill="#000"/>
<text transform="translate(134.20,150.60) scale(0.9723,1.0500)" font-family="Liberation Serif" font-size="20.8" font-style="italic">M</text>
<text transform="translate(154.27,153.60) scale(1.2480,1.0500)" font-family="Liberation Serif" font-size="14.6">env</text>
<path d="M189.40,144.60 H205.40 M189.40,147.85 H205.40" stroke="#000" stroke-width="1.05" fill="none"/>
<text transform="translate(211.06,150.60) scale(1.0947,1.0500)" font-family="Liberation Serif" font-size="20.8">11.9</text>
<text transform="translate(255.35,150.60) scale(1.0426,1.0500)" font-family="Liberation Serif" font-size="20.8">M</text>
<circle cx="281.90" cy="150.20" r="5.30" fill="none" stroke="#000" stroke-width="0.7"/><circle cx="281.90" cy="150.20" r="1.1" fill="#000"/>
<text transform="translate(135.93,179.40) scale(1.1574,1.0500)" font-family="Liberation Serif" font-size="20.8" font-style="italic">χ</text>
<text transform="translate(147.21,171.00) scale(1.1986,1.0500)" font-family="Liberation Serif" font-size="14.6">2</text>
<path d="M164.00,173.40 H179.40 M164.00,176.65 H179.40" stroke="#000" stroke-width="1.05" fill="none"/>
<text transform="translate(187.12,179.40) scale(1.0599,1.0500)" font-family="Liberation Serif" font-size="20.8">0.671</text>
<text transform="translate(135.93,225.00) scale(1.1574,1.0500)" font-family="Liberation Serif" font-size="20.8" font-style="italic">χ</text>
<text transform="translate(147.21,217.00) scale(1.1986,1.0500)" font-family="Liberation Serif" font-size="14.6">2</text>
<text transform="translate(147.02,231.00) scale(1.2932,1.0500)" font-family="Liberation Serif" font-size="14.6">red</text>
<path d="M179.40,219.00 H195.00 M179.40,222.25 H195.00" stroke="#000" stroke-width="1.05" fill="none"/>
<text transform="translate(201.10,225.00) scale(1.0856,1.0500)" font-family="Liberation Serif" font-size="20.8">0.168</text>
</g>
<!--MATH-->
</svg></body></html>
